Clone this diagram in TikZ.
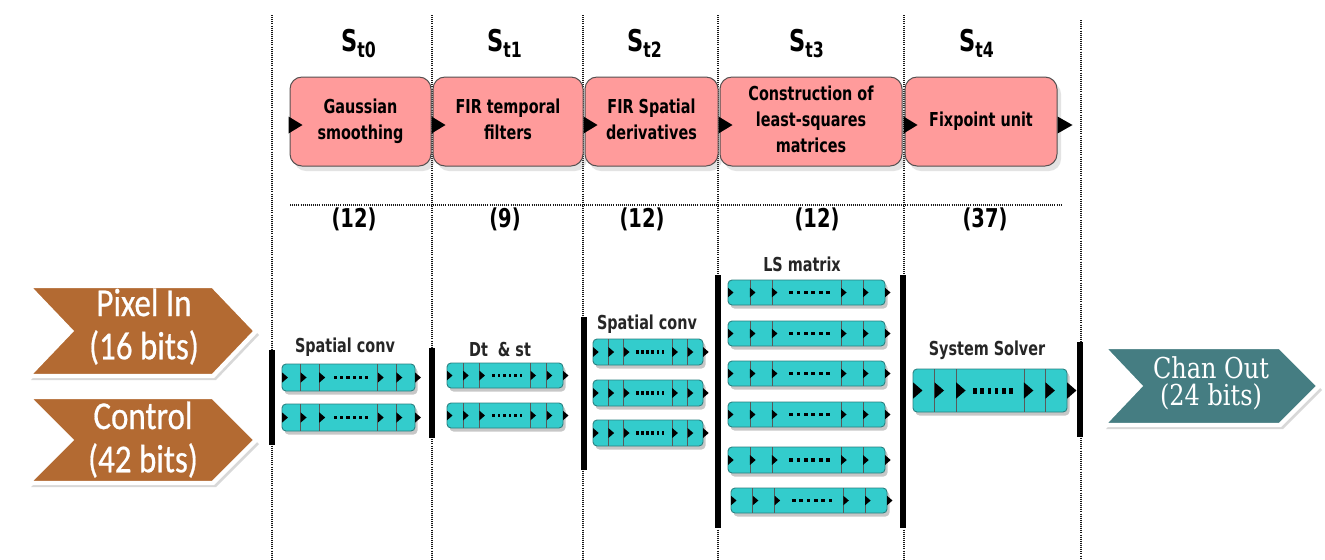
\documentclass[tikz,border=0pt]{standalone}
\usepackage{fontspec}
\usepackage{graphicx}
\usetikzlibrary{shadows,calc}
\newfontfamily\labf{DejaVu Sans Condensed}
\newfontfamily\calf{Carlito}[FakeBold=0.6]
\newfontfamily\serf{DejaVu Serif}
\definecolor{pinkfill}{HTML}{FF9B9B}
\definecolor{pinkdraw}{HTML}{555050}
\definecolor{brownfill}{HTML}{B36A32}
\definecolor{tealfill}{HTML}{457D82}
\definecolor{cyanfill}{HTML}{33CCCC}
\definecolor{cyandraw}{HTML}{2A8080}
\newcommand\vs[1]{\scalebox{1}[1.2]{\begin{tabular}{@{}c@{}}#1\end{tabular}}}
\newcommand\shreg[4]{%
  \fill[black,opacity=0.22,rounded corners=2pt] (#1+2.5,#2+3.5) rectangle ++(#3,#4);
  \draw[regbox] (#1,#2) rectangle ++(#3,#4);
  \foreach \f in {0.14,0.28,0.72,0.86} \draw[regdiv] (#1+\f*#3,#2) -- ++(0,#4);
  \foreach \f in {0,0.14,0.28,0.72,0.86,1}
    \fill (#1+\f*#3,#2+0.31*#4) -- ++(0.22*#4,0.19*#4) -- ++(-0.22*#4,0.19*#4) -- cycle;
  \foreach \k in {0,...,5}
    \fill (#1+0.39*#3+\k*0.047*#3,#2+0.43*#4) rectangle ++(0.024*#3,0.14*#4);
}
\begin{document}
\begin{tikzpicture}[x=0.5pt,y=-0.5pt,
  vdots/.style={black!90,line width=1pt,dash pattern=on 0.5pt off 0.55pt},
  stagebox/.style={draw=pinkdraw,fill=pinkfill,rounded corners=6pt,line width=0.5pt,
    minimum height=44.5pt,inner sep=0pt,
    drop shadow={opacity=0.22,shadow xshift=2pt,shadow yshift=-2.5pt},
    font=\labf\bfseries\fontsize{8}{10.8}\selectfont},
  stlab/.style={inner sep=0pt,font=\labf\bfseries\fontsize{12.5}{14}\selectfont},
  cnt/.style={inner sep=0pt,font=\labf\bfseries\fontsize{10.8}{12}\selectfont},
  reglab/.style={inner sep=0pt,text=black!85,font=\labf\bfseries\fontsize{8}{10}\selectfont},
  regbox/.style={draw=cyandraw,fill=cyanfill,rounded corners=2pt,line width=0.45pt},
  regdiv/.style={draw=black!65,line width=0.4pt},
  bar/.style={line width=2.8pt,black},
  chevron/.style={draw=white,line width=2.2pt,line join=miter,
    drop shadow={opacity=0.3,shadow xshift=1.5pt,shadow yshift=-2pt}},
  chevtext/.style={inner sep=0pt,text=white,font=\calf\fontsize{16.5}{18}\selectfont},
  outtext/.style={inner sep=0pt,text=white,font=\serf\fontsize{12}{10.8}\selectfont}]
\fill[white] (0,0) rectangle (1325,559);
\useasboundingbox (0,0) rectangle (1325,559);
% dotted grid
\foreach \xx/\yy in {272/15,432/15,583/15,718/15,904/15,1081/20}
  \draw[vdots] (\xx,\yy) -- (\xx,559);
\draw[vdots] (290,205) -- (1062,205);
% stage labels
\node[stlab] (s0) at (359,45) {\vs{S\textsubscript{t0}}};
\node[stlab] (s1) at (505,45) {\vs{S\textsubscript{t1}}};
\node[stlab] (s2) at (645,45) {\vs{S\textsubscript{t2}}};
\node[stlab] (s3) at (807,45) {\vs{S\textsubscript{t3}}};
\node[stlab] (s4) at (977,45) {\vs{S\textsubscript{t4}}};
% stage boxes
\node[stagebox,minimum width=70.5pt] (b0) at (360.5,121.5) {\vs{Gaussian\\smoothing}};
\node[stagebox,minimum width=75pt] (b1) at (508,121.5) {\vs{FIR temporal\\filters}};
\node[stagebox,minimum width=66.5pt] (b2) at (651.5,121.5) {\vs{FIR Spatial\\derivatives}};
\node[stagebox,minimum width=91pt] (b3) at (811,121.5) {\vs{Construction of\\least-squares\\matrices}};
\node[stagebox,minimum width=76pt] (b4) at (981,121.5) {\vs{Fixpoint unit}};
\foreach \b in {b0,b1,b2,b3,b4}
  \fill ($(\b.west)+(-1,-5)$) -- ++(14,8.5) -- ++(-14,8.5) -- cycle;
\fill ($(b4.east)+(0,-5)$) -- ++(15,8.5) -- ++(-15,8.5) -- cycle;
% counts
\node[cnt] (c0) at (354,222) {\vs{(12)}};
\node[cnt] (c1) at (505,222) {\vs{(9)}};
\node[cnt] (c2) at (642,222) {\vs{(12)}};
\node[cnt] (c3) at (817,222) {\vs{(12)}};
\node[cnt] (c4) at (985,222) {\vs{(37)}};
% input / output chevrons
\draw[chevron,fill=brownfill] (28,286) -- (213,286) -- (256,331) -- (213,376) -- (28,376) -- (71,331) -- cycle;
\draw[chevron,fill=brownfill] (28,397) -- (213,397) -- (256,440) -- (213,483) -- (28,483) -- (71,440) -- cycle;
\draw[chevron,fill=tealfill] (1103,347) -- (1280,347) -- (1319,386) -- (1280,425) -- (1103,425) -- (1140,386) -- cycle;
\node[chevtext] (pin) at (144,329) {\vs{Pixel In\\(16 bits)}};
\node[chevtext] (ctl) at (143,442) {\vs{Control\\(42 bits)}};
\node[outtext] (cout) at (1211,385) {\vs{Chan Out\\[-1.3pt](24 bits)}};
% pipeline bars
\draw[bar] (272,350) -- (272,445);
\draw[bar] (432,348) -- (432,438);
\draw[bar] (584,317) -- (584,470);
\draw[bar] (718,275) -- (718,528);
\draw[bar] (903,275) -- (903,528);
\draw[bar] (1080,342) -- (1080,437);
% register labels
\node[reglab] (l0) at (345,348) {\vs{Spatial conv}};
\node[reglab] (l1) at (500,352) {\vs{Dt\ \ \& st}};
\node[reglab] (l2) at (647,325) {\vs{Spatial conv}};
\node[reglab] (l3) at (802,267) {\vs{LS matrix}};
\node[reglab] (l4) at (987,351) {\vs{System Solver}};
% shift registers
\shreg{282}{364}{133}{27}
\shreg{282}{404}{133}{27}
\shreg{447}{363}{116}{25}
\shreg{447}{403}{116}{25}
\shreg{593}{339}{110}{26}
\shreg{593}{380}{110}{26}
\shreg{593}{420}{110}{26}
\shreg{728}{280}{157}{25}
\shreg{728}{321}{157}{25}
\shreg{728}{361}{157}{25}
\shreg{728}{402}{157}{25}
\shreg{728}{447}{157}{26}
\shreg{731}{488}{156}{25}
\shreg{913}{369}{154}{43}
\end{tikzpicture}
\end{document}
